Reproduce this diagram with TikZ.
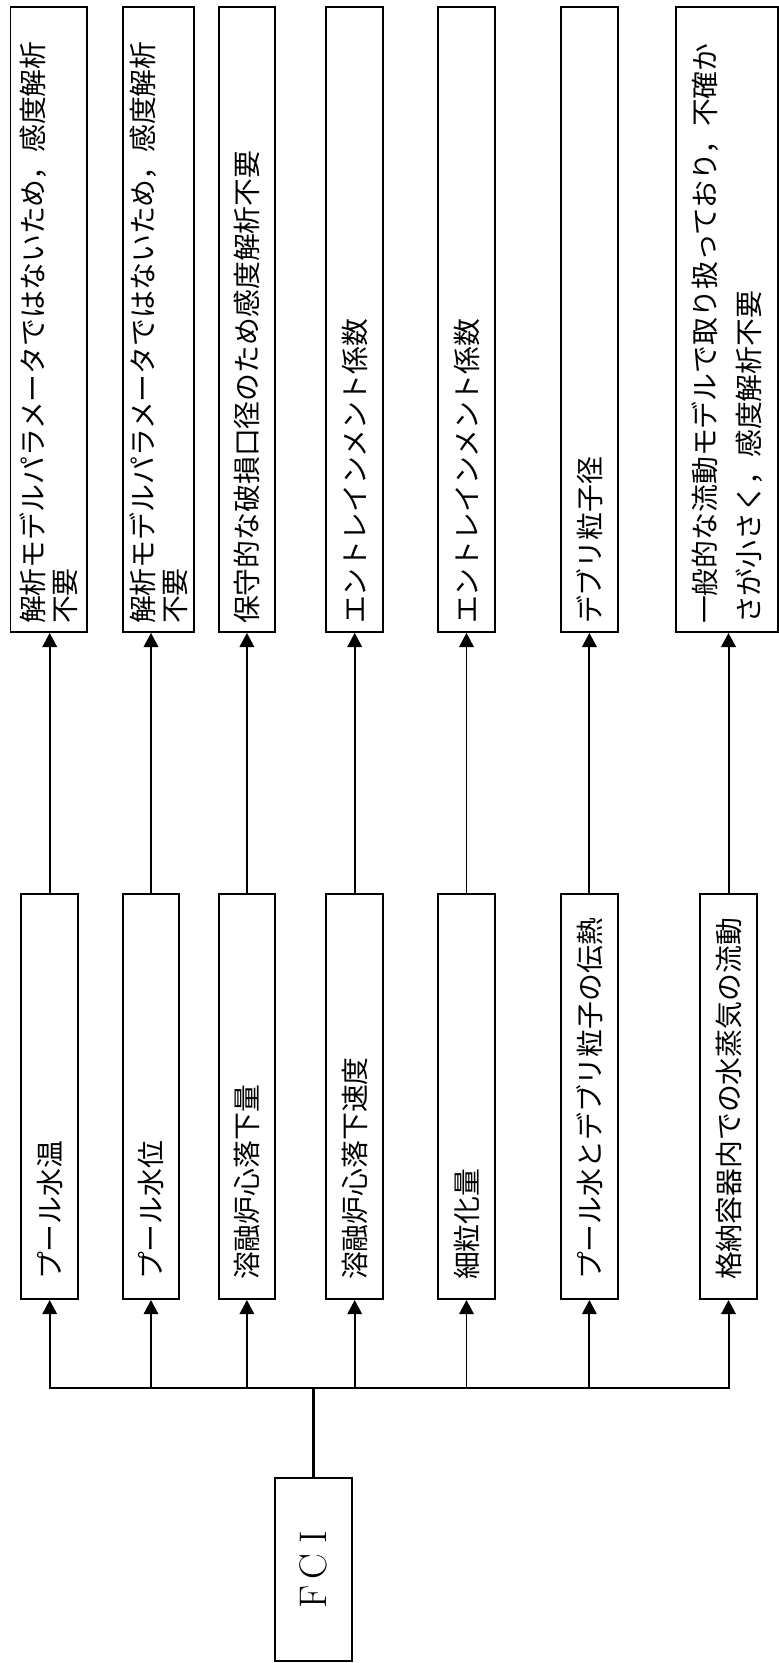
\documentclass[tikz,border=0pt]{standalone}
\usepackage{fontspec}
\newfontfamily\cjk{Noto Sans CJK JP}
\usetikzlibrary{arrows.meta}
\tikzset{
  every picture/.style={line join=miter, line cap=butt},
  box/.style={draw, line width=1.5pt, rotate=90, inner sep=0pt, font=\cjk\fontsize{21}{24}\selectfont},
  topbox/.style={box, minimum width=16.56cm, text width=16.14cm, align=left},
  midbox/.style={box, minimum width=10.74cm, minimum height=1.5cm, text width=9.73cm, align=left},
  link/.style={line width=1.5pt, -{Triangle[length=10.7pt,width=11pt]}},
}

\begin{document}
\begin{tikzpicture}[x=0.0265cm,y=-0.0265cm]
\useasboundingbox (0,0) rectangle (779,1663);
% results
\node[topbox, minimum height=2.03cm] (t1) at (48.8,319.5) {解析モデルパラメータではないため，感度解析\\不要};
\node[topbox, minimum height=1.88cm] (t2) at (158.5,319.5) {解析モデルパラメータではないため，感度解析\\不要};
\node[topbox, minimum height=1.5cm] (t3) at (246.9,319.5) {保守的な破損口径のため感度解析不要};
\node[topbox, minimum height=1.5cm] (t4) at (354.7,319.5) {エントレインメント係数};
\node[topbox, minimum height=1.5cm] (t5) at (466.5,319.5) {エントレインメント係数};
\node[topbox, minimum height=1.5cm] (t6) at (589.4,319.5) {デブリ粒子径};
\node[topbox, minimum height=2.71cm, font=\cjk\fontsize{21}{33}\selectfont] (t7) at (726.9,319.5) {一般的な流動モデルで取り扱っており，不確か\\さが小さく，感度解析不要};
% phenomena
\node[midbox] (m1) at (49.7,1096.4) {プール水温};
\node[midbox] (m2) at (151,1096.4) {プール水位};
\node[midbox] (m3) at (246.9,1096.4) {溶融炉心落下量};
\node[midbox] (m4) at (354.7,1096.4) {溶融炉心落下速度};
\node[midbox] (m5) at (466.5,1096.4) {細粒化量};
\node[midbox] (m6) at (589.4,1096.4) {プール水とデブリ粒子の伝熱};
\node[midbox] (m7) at (728.5,1096.4) {格納容器内での水蒸気の流動};
% FCI
\node[draw, line width=1.5pt, rotate=90, minimum width=4.83cm, minimum height=2.03cm, font=\fontsize{29}{33}\selectfont] (fci) at (313.3,1569.5) {F\hspace{4pt}C\hspace{8pt}I};
\coordinate (bus) at (313.3,1388.2);
\draw[line width=2.5pt] (fci) -- (bus);
\draw[link] (bus) -| (m1.west);
\draw[link] (bus) -| (m2.west);
\draw[link] (bus) -| (m3.west);
\draw[link] (bus) -| (m4.west);
\draw[link] (bus) -| (m5.west);
\draw[link] (bus) -| (m6.west);
\draw[link] (bus) -| (m7.west);
\draw[link] (m1.east) -- (m1.east |- t1.west);
\draw[link] (m2.east) -- (m2.east |- t2.west);
\draw[link] (m3.east) -- (m3.east |- t3.west);
\draw[link] (m4.east) -- (m4.east |- t4.west);
\draw[link] (m5.east) -- (m5.east |- t5.west);
\draw[link] (m6.east) -- (m6.east |- t6.west);
\draw[link] (m7.east) -- (m7.east |- t7.west);
\end{tikzpicture}
\end{document}
